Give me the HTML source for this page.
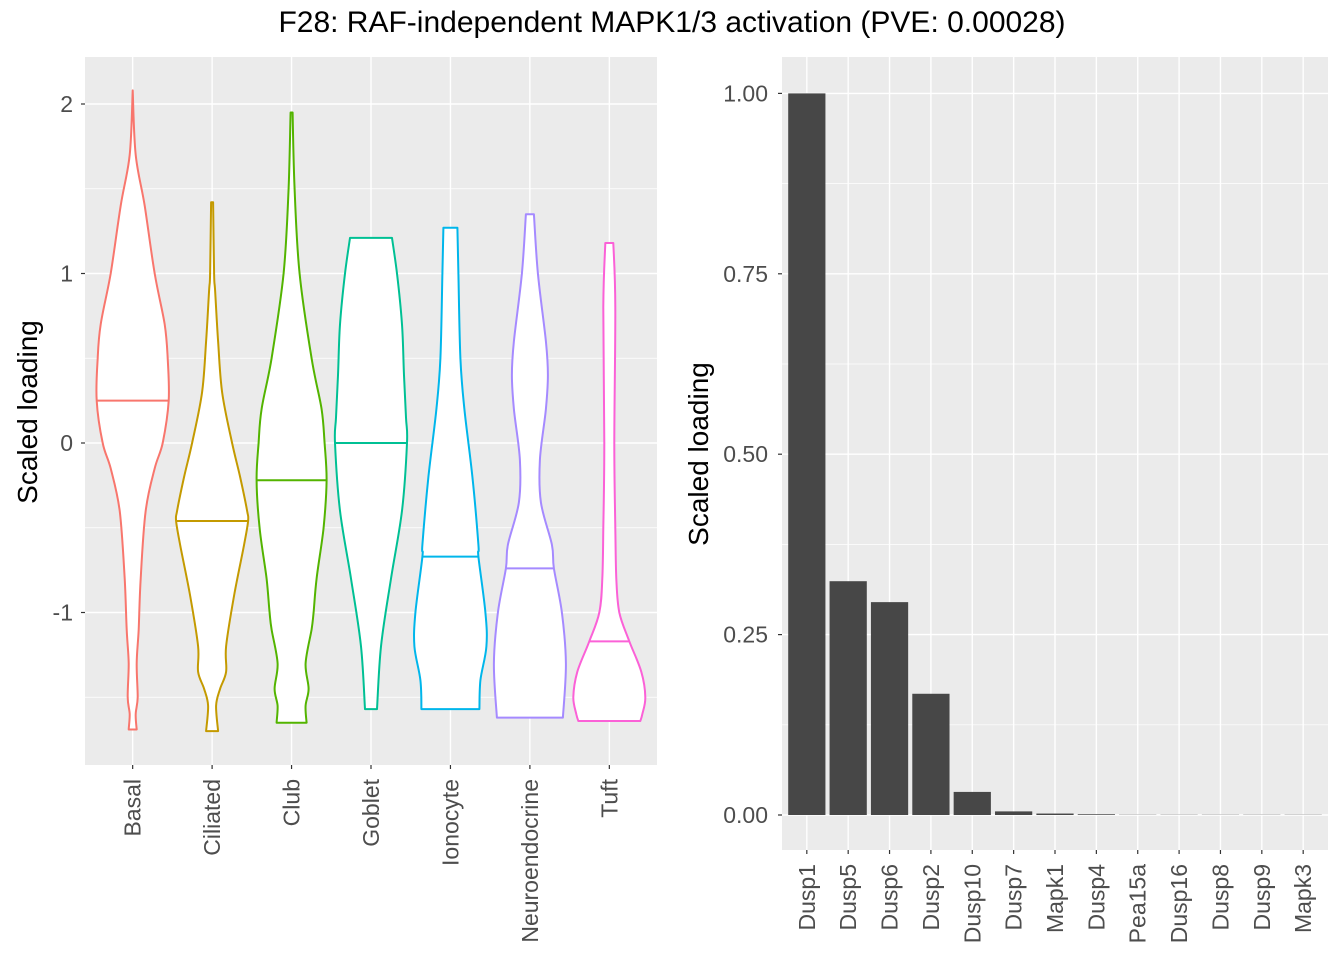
<!DOCTYPE html>
<html><head><meta charset="utf-8"><style>
body{margin:0;background:#fff;font-family:"Liberation Sans",Arial,sans-serif}
svg text{font-family:"Liberation Sans",Arial,sans-serif}
</style></head><body>
<svg id="c" width="1344" height="960" xmlns="http://www.w3.org/2000/svg">
<text x="672" y="32" text-anchor="middle" font-size="30" fill="#000">F28: RAF-independent MAPK1/3 activation (PVE: 0.00028)</text>
<text transform="translate(37,412) rotate(-90)" text-anchor="middle" font-size="28">Scaled loading</text>
<text transform="translate(708,454) rotate(-90)" text-anchor="middle" font-size="28">Scaled loading</text>
<g id="left"></g>
<g id="right"></g>
</svg>
<script>
const cellTypes=["Basal","Ciliated","Club","Goblet","Ionocyte","Neuroendocrine","Tuft"];
const colors=["#F8766D","#C49A00","#53B400","#00C094","#00B6EB","#A58AFF","#FB61D7"];
const medians=[0.25,-0.46,-0.22,0,-0.67,-0.74,-1.17];
const violinYs=[
[2.08,1.7,1.4,1.0,0.7,0.5,0.25,0,-0.15,-0.4,-0.8,-1.1,-1.3,-1.5,-1.6,-1.69],
[1.42,1.0,0.9,0.6,0.3,0,-0.2,-0.4,-0.46,-0.6,-0.9,-1.2,-1.35,-1.45,-1.55,-1.7],
[1.95,1.5,1.0,0.5,0.2,0,-0.22,-0.5,-0.8,-1.0,-1.1,-1.3,-1.45,-1.55,-1.65],
[1.21,1.0,0.7,0.4,0.15,0,-0.4,-0.8,-1.2,-1.57],
[1.27,1.0,0.5,0.2,-0.2,-0.6,-0.67,-1.0,-1.2,-1.4,-1.57],
[1.35,1.0,0.6,0.4,0.2,-0.1,-0.35,-0.6,-0.74,-1.0,-1.3,-1.62],
[1.18,0.8,0,-0.5,-0.8,-1.0,-1.17,-1.35,-1.5,-1.6,-1.64]];
const violinW=[
[0,3,12,22,32,35,36,30,22,13,8,6,4,5,3,4],
[1,2,3,6,10,20,28,35,36,32,22,14,14,8,4,6],
[1,3,8,20,30,33,35,32,25,22,20,14,17,14,15],
[21,26,31,33,35,36,31,20,10,6],
[7,8,10,14,22,28,28,35,36,30,29],
[4,8,16,18,16,10,11,22,24,32,36,33],
[4,6,5,6,7,10,20,32,36,33,31]];
const leftTicks=[2,1,0,-1];
const genes=["Dusp1","Dusp5","Dusp6","Dusp2","Dusp10","Dusp7","Mapk1","Dusp4","Pea15a","Dusp16","Dusp8","Dusp9","Mapk3"];
const loadings=[1.0,0.324,0.295,0.168,0.032,0.005,0.002,0.001,0.0003,0.0003,0.0003,0.0003,0.0003];
const rightTicks=[0,0.25,0.5,0.75,1.0];

const NS="http://www.w3.org/2000/svg";
function mk(p,t,a,txt){const e=document.createElementNS(NS,t);for(const k in a)e.setAttribute(k,a[k]);if(txt!==undefined)e.textContent=txt;p.appendChild(e);return e;}
function smooth(pts){
 let d='M'+pts[0][0].toFixed(1)+','+pts[0][1].toFixed(1);
 for(let i=0;i<pts.length-1;i++){
  const p0=pts[Math.max(i-1,0)],p1=pts[i],p2=pts[i+1],p3=pts[Math.min(i+2,pts.length-1)];
  const c1=[p1[0]+(p2[0]-p0[0])/6,p1[1]+(p2[1]-p0[1])/6];
  const c2=[p2[0]-(p3[0]-p1[0])/6,p2[1]-(p3[1]-p1[1])/6];
  d+=`C${c1[0].toFixed(1)},${c1[1].toFixed(1)} ${c2[0].toFixed(1)},${c2[1].toFixed(1)} ${p2[0].toFixed(1)},${p2[1].toFixed(1)}`;
 }
 return d;
}
const TF=23;
// Left panel
const L=document.getElementById('left');
const lx0=85,lx1=657,ly0=57,ly1=765;
const ly=v=>443-v*169.5;
const lband=(lx1-lx0)/(cellTypes.length-1+1.2);
const lx=i=>lx0+(0.6+i)*lband;
let bg=mk(L,'rect',{x:lx0,y:ly0,width:lx1-lx0,height:ly1-ly0,fill:'#EBEBEB'});


[1.5,0.5,-0.5,-1.5].forEach(v=>mk(L,'line',{x1:lx0,x2:lx1,y1:ly(v),y2:ly(v),stroke:'#fff','stroke-width':0.7}));
leftTicks.forEach(v=>{
 const g=mk(L,'line',{x1:lx0,x2:lx1,y1:ly(v),y2:ly(v),stroke:'#fff','stroke-width':1.4});
 
 
 mk(L,'line',{x1:lx0-4,x2:lx0,y1:ly(v),y2:ly(v),stroke:'#333','stroke-width':1.2});
 const t=mk(L,'text',{x:lx0-12,y:ly(v)+8,'text-anchor':'end','font-size':TF,fill:'#4D4D4D'},String(v));
 
 
});
cellTypes.forEach((c,i)=>{
 const x=lx(i);
 mk(L,'line',{x1:x,x2:x,y1:ly0,y2:ly1,stroke:'#fff','stroke-width':1.4});
 mk(L,'line',{x1:x,x2:x,y1:ly1,y2:ly1+4,stroke:'#333','stroke-width':1.2});
 const t=mk(L,'text',{transform:`translate(${x+8},${ly1+14}) rotate(-90)`,'text-anchor':'end','font-size':TF,fill:'#4D4D4D'},c);
 
 
});
cellTypes.forEach((c,i)=>{
 const x=lx(i),ys=violinYs[i],ws=violinW[i];
 const right=ys.map((y,k)=>[x+ws[k],ly(y)]);
 const left=ys.map((y,k)=>[x-ws[k],ly(y)]).reverse();
 const d=smooth(right)+'L'+smooth(left).slice(1)+'Z';
 const v=mk(L,'path',{d:d,fill:'#fff',stroke:colors[i],'stroke-width':2,'stroke-linejoin':'round'});
 
 
 const m=medians[i];let hw=0;
 for(let k=0;k<ys.length-1;k++){if(ys[k]>=m&&ys[k+1]<=m){const f=(ys[k]-m)/(ys[k]-ys[k+1]||1);hw=ws[k]+(ws[k+1]-ws[k])*f;}}
 const ml=mk(L,'line',{x1:x-hw,x2:x+hw,y1:ly(m),y2:ly(m),stroke:colors[i],'stroke-width':2});
 
 
});

// Right panel
const R=document.getElementById('right');
const rx0=782,rx1=1328,ry0=57,ry1=850;
const ry=v=>815-v*721.6;
const rband=(rx1-rx0)/(genes.length-1+1.2);
const rx=i=>rx0+(0.6+i)*rband;
bg=mk(R,'rect',{x:rx0,y:ry0,width:rx1-rx0,height:ry1-ry0,fill:'#EBEBEB'});


[0.125,0.375,0.625,0.875].forEach(v=>mk(R,'line',{x1:rx0,x2:rx1,y1:ry(v),y2:ry(v),stroke:'#fff','stroke-width':0.7}));
rightTicks.forEach(v=>{
 mk(R,'line',{x1:rx0,x2:rx1,y1:ry(v),y2:ry(v),stroke:'#fff','stroke-width':1.4});
 mk(R,'line',{x1:rx0-4,x2:rx0,y1:ry(v),y2:ry(v),stroke:'#333','stroke-width':1.2});
 const t=mk(R,'text',{x:rx0-14,y:ry(v)+8,'text-anchor':'end','font-size':TF,fill:'#4D4D4D'},v.toFixed(2));
 
 
});
genes.forEach((g,i)=>{
 const x=rx(i);
 mk(R,'line',{x1:x,x2:x,y1:ry0,y2:ry1,stroke:'#fff','stroke-width':1.4});
 mk(R,'line',{x1:x,x2:x,y1:ry1,y2:ry1+4,stroke:'#333','stroke-width':1.2});
 const t=mk(R,'text',{transform:`translate(${x+8},${ry1+14}) rotate(-90)`,'text-anchor':'end','font-size':TF,fill:'#4D4D4D'},g);
 
 
});
genes.forEach((g,i)=>{
 const w=rband*0.9,top=ry(loadings[i]);
 const b=mk(R,'rect',{x:rx(i)-w/2,y:top,width:w,height:Math.max(ry(0)-top,0),fill:'#474747'});
 
 
});
</script>
</body></html>
